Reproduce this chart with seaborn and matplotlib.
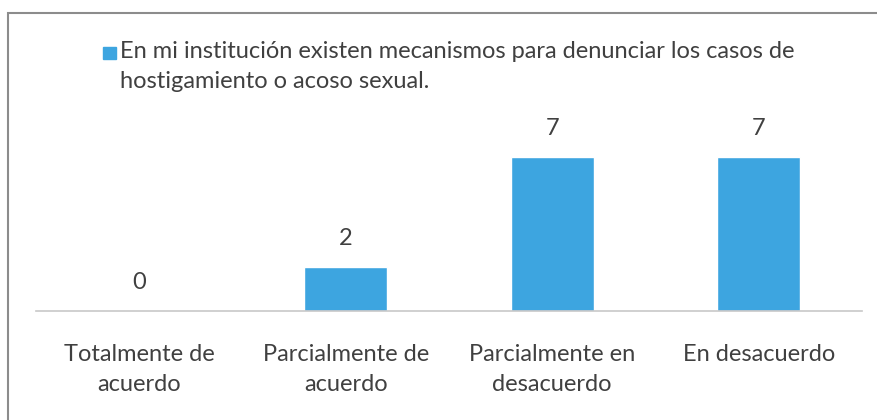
import matplotlib
matplotlib.use("Agg")
import matplotlib.pyplot as plt
from matplotlib.patches import Rectangle
import seaborn as sns
import pandas as pd

# chart data
categories = ["Totalmente de\nacuerdo", "Parcialmente de\nacuerdo",
              "Parcialmente en\ndesacuerdo", "En desacuerdo"]
values = [0, 2, 7, 7]
series_name = "En mi institución existen mecanismos para denunciar los casos de\nhostigamiento o acoso sexual."

bar_color = "#3DA5E0"
text_color = "#404040"

sns.set_style("white")
plt.rcParams['font.family'] = ['Lato', 'DejaVu Sans']

df = pd.DataFrame({"cat": categories, "n": values})

fig = plt.figure(figsize=(8.78, 4.2), dpi=100)
ax = fig.add_axes([36/878, 1-311/420, (862-36)/878, (311-120)/420])

sns.barplot(data=df, x="cat", y="n", color=bar_color, width=0.4,
            saturation=1, ax=ax)
ax.set_ylim(0, (311-120)/22)

for i, v in enumerate(df.n):
    ax.annotate(str(v), (i, v), xytext=(0, 13), textcoords="offset points",
                ha="center", va="bottom", fontsize=17, color=text_color)

ax.set_xlabel("")
ax.set_ylabel("")
ax.set_yticks([])
ax.tick_params(axis="x", length=0, pad=24, labelsize=17, labelcolor=text_color)
for lbl in ax.get_xticklabels():
    lbl.set_linespacing(1.5)
for s in ["left", "right", "top"]:
    ax.spines[s].set_visible(False)
ax.spines["bottom"].set_color("#C8C8C8")
ax.spines["bottom"].set_linewidth(1.2)

# legend drawn by hand so the marker sits on the first line
fig.patches.append(Rectangle((103/878, 1-59/420), 13/878, 12/420,
                             transform=fig.transFigure, color=bar_color))
fig.text(120/878, 1-41/420, series_name, fontsize=17, color=text_color,
         va="top", ha="left", linespacing=1.5)

# outer frame (only left and top edges visible)
fig.patches.append(Rectangle((8/878, -0.05), 1.0, 1.05-13/420,
                             transform=fig.transFigure, fill=False,
                             edgecolor="#8C8C8C", linewidth=1.5))

fig.savefig("out.png", dpi=100)
